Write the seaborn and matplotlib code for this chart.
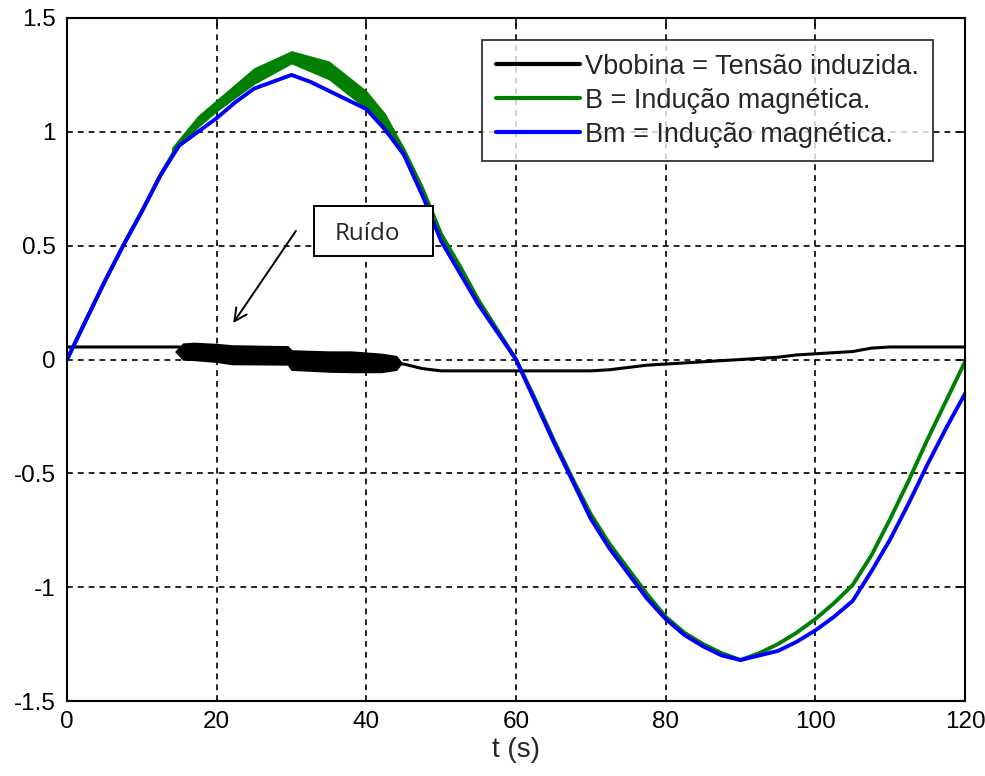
import numpy as np
import pandas as pd
import matplotlib
matplotlib.use("Agg")
import matplotlib.pyplot as plt
from matplotlib.patches import Rectangle
import seaborn as sns

# ---- data ----
t = [0, 2.5, 5, 7.5, 10, 12.5, 15, 17.5, 20, 22.5, 25, 27.5, 30, 32.5, 35, 37.5, 40, 42.5, 45,
     47.5, 50, 52.5, 55, 57.5, 60, 62.5, 65, 67.5, 70, 72.5, 75, 77.5, 80, 82.5, 85, 87.5, 90,
     92.5, 95, 97.5, 100, 102.5, 105, 107.5, 110, 112.5, 115, 117.5, 120]
B = [0.0, 0.17, 0.34, 0.50, 0.65, 0.81, 0.95, 1.04, 1.11, 1.18, 1.24, 1.29, 1.33, 1.31, 1.27, 1.21, 1.14, 1.04, 0.92,
     0.75, 0.55, 0.41, 0.26, 0.13, 0.0, -0.17, -0.35, -0.52, -0.68, -0.81, -0.92, -1.03, -1.13, -1.20, -1.25, -1.29, -1.32,
     -1.29, -1.25, -1.20, -1.14, -1.07, -0.99, -0.86, -0.70, -0.53, -0.35, -0.18, -0.01]
Bm = [0.0, 0.17, 0.34, 0.50, 0.65, 0.81, 0.94, 1.00, 1.06, 1.13, 1.19, 1.22, 1.25, 1.22, 1.18, 1.14, 1.10, 1.01, 0.90,
      0.72, 0.52, 0.38, 0.24, 0.12, 0.0, -0.18, -0.36, -0.53, -0.70, -0.83, -0.94, -1.05, -1.14, -1.21, -1.26, -1.30, -1.32,
      -1.30, -1.28, -1.24, -1.19, -1.13, -1.06, -0.93, -0.79, -0.63, -0.46, -0.30, -0.15]
V = [0.055, 0.055, 0.055, 0.055, 0.055, 0.055, 0.055, 0.045, 0.035, 0.03, 0.025, 0.02, 0.015, 0.01, 0.005, 0.0, -0.005, -0.01, -0.02,
     -0.04, -0.05, -0.05, -0.05, -0.05, -0.05, -0.05, -0.05, -0.05, -0.05, -0.045, -0.035, -0.025, -0.02, -0.015, -0.01, -0.005, 0.0,
     0.005, 0.01, 0.02, 0.025, 0.03, 0.035, 0.05, 0.055, 0.055, 0.055, 0.055, 0.055]
# noisy band of Vbobina (t, upper, lower)
noise_t = [14.5, 15.5, 17, 20, 22, 29.5, 30, 35, 38, 42, 44, 44.6]
noise_hi = [0.035, 0.07, 0.073, 0.068, 0.062, 0.058, 0.04, 0.035, 0.035, 0.025, 0.015, -0.01]
noise_lo = [0.035, 0.0, -0.002, -0.01, -0.02, -0.022, -0.045, -0.053, -0.055, -0.055, -0.045, -0.02]
# noisy band of B near the peak
bnoise_t = [14, 17.5, 20, 25, 30, 35, 40, 42.5, 45]
bnoise_hi = [0.93, 1.07, 1.14, 1.28, 1.355, 1.31, 1.18, 1.08, 0.93]
bnoise_lo = [0.90, 1.02, 1.09, 1.21, 1.30, 1.23, 1.10, 1.00, 0.90]

labels = ["Vbobina = Tensão induzida.", "B = Indução magnética.", "Bm = Indução magnética."]
xticks = [0, 20, 40, 60, 80, 100, 120]
yticks = [-1.5, -1, -0.5, 0, 0.5, 1, 1.5]
ytick_labels = ["-1.5", "-1", "-0.5", "0", "0.5", "1", "1.5"]

sns.set_style("white")
plt.rcParams["font.family"] = ["Liberation Sans", "DejaVu Sans"]

fig = plt.figure(figsize=(9.85, 7.76), dpi=100)
ax = fig.add_axes([67/985, 1-701/776, 898/985, 683/776])

df = pd.DataFrame({"t": t, "V": V, "B": B, "Bm": Bm})
sns.lineplot(data=df, x="t", y="V", color="black", lw=2.2, ax=ax, label=labels[0], estimator=None)
sns.lineplot(data=df, x="t", y="B", color="#007f00", lw=2.8, ax=ax, label=labels[1], estimator=None)
sns.lineplot(data=df, x="t", y="Bm", color="#0000ff", lw=2.8, ax=ax, label=labels[2], estimator=None)
ax.fill_between(noise_t, noise_lo, noise_hi, color="black", lw=1)
ax.fill_between(bnoise_t, bnoise_lo, bnoise_hi, color="#007f00", lw=0.5)

ax.set_xlim(0, 120)
ax.set_ylim(-1.5, 1.5)
ax.set_xticks(xticks)
ax.set_yticks(yticks)
ax.set_yticklabels(ytick_labels)
ax.tick_params(direction="in", length=6, width=1.2, top=True, right=True, labelsize=17.5,
               colors="black", pad=7)
ax.tick_params(axis="y", pad=8)
ax.grid(True, color="black", linestyle=(0, (3.5, 3)), lw=1.2)
for s in ax.spines.values():
    s.set_color("black")
    s.set_linewidth(1.5)
ax.set_xlabel("t (s)", fontsize=20, labelpad=3)
ax.set_ylabel("")

leg = ax.legend(loc="upper right", bbox_to_anchor=((933-67)/898, (701-40)/683), borderaxespad=0,
                fontsize=19.5, frameon=True, fancybox=False, handlelength=3.1, handletextpad=0.22,
                labelspacing=0.3, borderpad=0.5)
leg.get_frame().set_edgecolor("black")
leg.get_frame().set_linewidth(1.3)
for h in leg.get_lines():
    h.set_linewidth(3)

ax.annotate("", xy=(22.0, 0.15), xytext=(30.8, 0.575),
            arrowprops=dict(arrowstyle="->,head_length=0.9,head_width=0.45", color="black", lw=1.4))
ax.add_patch(Rectangle((33.0, 0.455), 15.9, 0.219, fc="white", ec="black", lw=1.4, zorder=5))
ax.text(35.8, 0.55, "Ruído", fontsize=17.5, ha="left", va="center", family=["Open Sans", "DejaVu Sans"],
        zorder=6)

fig.savefig("out.png", dpi=100)
